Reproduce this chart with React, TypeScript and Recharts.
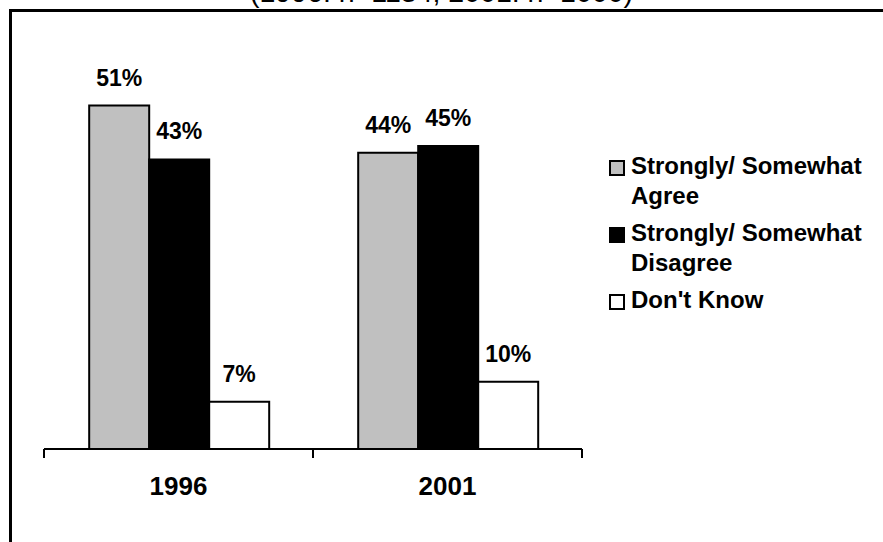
import { Bar, BarChart, LabelList, XAxis, YAxis } from "recharts";

const categories = ["1996", "2001"];
const agreeValues = [51, 44];
const disagreeValues = [43, 45];
const dontKnowValues = [7, 10];

const SERIES = [
  { key: "agree", lines: ["Strongly/ Somewhat", "Agree"], fill: "#c0c0c0" },
  { key: "disagree", lines: ["Strongly/ Somewhat", "Disagree"], fill: "#000000" },
  { key: "dontKnow", lines: ["Don't Know"], fill: "#ffffff" },
];

const FONT = "'Liberation Sans', Arial, sans-serif";

const data = categories.map((year, i) => ({
  year,
  agree: agreeValues[i],
  disagree: disagreeValues[i],
  dontKnow: dontKnowValues[i],
}));

function ValueLabel(props: any) {
  const { x, y, width, value } = props;
  return (
    <text
      x={x + width / 2}
      y={y - 20}
      textAnchor="middle"
      fontFamily={FONT}
      fontWeight="bold"
      fontSize={23}
      fill="#000"
    >
      {value}%
    </text>
  );
}

function YearTick(props: any) {
  const { x, y, payload, index, visibleTicksCount } = props;
  const half = payload.offset ?? 0;
  const last = index === visibleTicksCount - 1;
  return (
    <g>
      <line x1={x - half} x2={x - half} y1={y} y2={y + 9} stroke="#000" strokeWidth={2} />
      {last ? <line x1={x + half} x2={x + half} y1={y} y2={y + 9} stroke="#000" strokeWidth={2} /> : null}
      <text x={x} y={y + 46} textAnchor="middle" fontFamily={FONT} fontWeight="bold" fontSize={26} fill="#000">
        {payload.value}
      </text>
    </g>
  );
}

function LegendBox() {
  return (
    <div
      style={{
        position: "absolute",
        left: 609,
        top: 151,
        fontFamily: FONT,
        fontWeight: "bold",
        fontSize: 24,
        lineHeight: "30px",
        color: "#000",
      }}
    >
      {SERIES.map((s) => (
        <div key={s.key} style={{ display: "flex", marginBottom: 7 }}>
          <div
            style={{
              width: 12,
              height: 12,
              marginTop: 9,
              marginRight: 6,
              border: "2px solid #000",
              background: s.fill,
              flexShrink: 0,
            }}
          />
          <div>
            {s.lines.map((l) => (
              <div key={l} style={{ whiteSpace: "nowrap" }}>
                {l}
              </div>
            ))}
          </div>
        </div>
      ))}
    </div>
  );
}

export default function App() {
  return (
    <div style={{ position: "absolute", left: 0, top: 0, width: 883, height: 542, background: "#fff", overflow: "hidden" }}>
      <div
        style={{
          position: "absolute",
          left: 0,
          width: 883,
          top: -23,
          textAlign: "center",
          fontFamily: FONT,
          fontSize: 28.5,
          lineHeight: "30px",
        }}
      >
        (1996: n=1134; 2001: n=1000)
      </div>
      <div style={{ position: "absolute", left: 9, top: 9, width: 874, height: 3, background: "#000" }} />
      <div style={{ position: "absolute", left: 9, top: 9, width: 3, height: 533, background: "#000" }} />
      <BarChart
        width={883}
        height={542}
        data={data}
        margin={{ top: 45, right: 301, left: 44, bottom: 92 }}
        barCategoryGap="16.8%"
        barGap={0}
        style={{ position: "absolute", left: 0, top: 0 }}
      >
        <YAxis hide domain={[0, 60]} />
        <XAxis
          dataKey="year"
          height={1}
          axisLine={{ stroke: "#000", strokeWidth: 2 }}
          tickLine={false}
          tickSize={0}
          tickMargin={0}
          tick={<YearTick />}
          interval={0}
        />
        {SERIES.map((s) => (
          <Bar key={s.key} dataKey={s.key} fill={s.fill} stroke="#000" strokeWidth={2} isAnimationActive={false}>
            <LabelList dataKey={s.key} content={<ValueLabel />} />
          </Bar>
        ))}
      </BarChart>
      <LegendBox />
    </div>
  );
}
